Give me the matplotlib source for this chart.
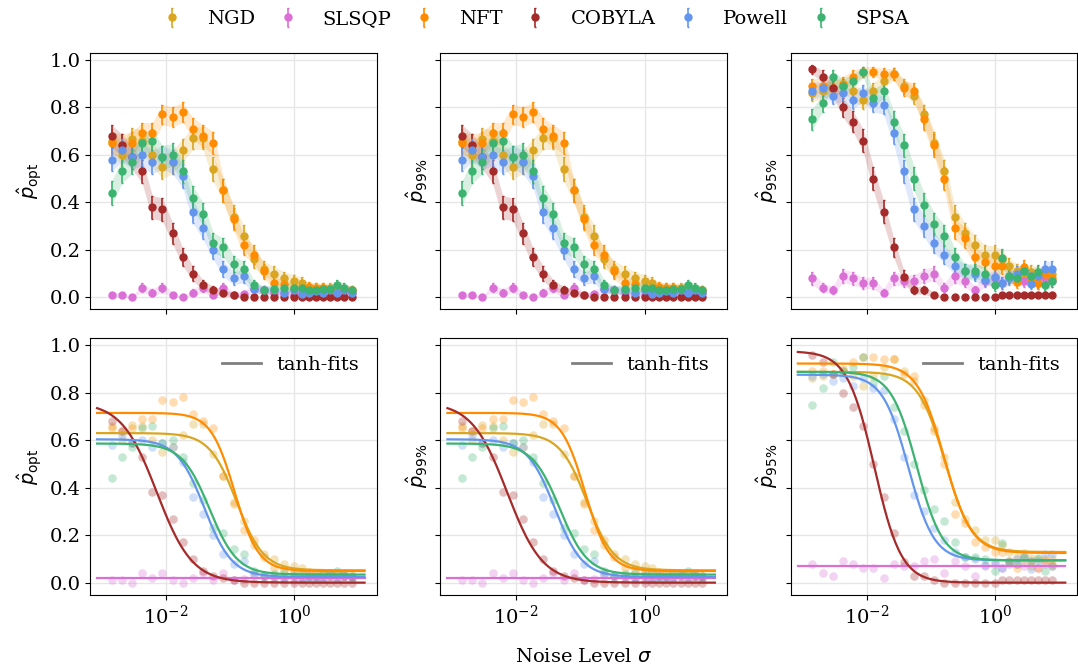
import numpy as np
import matplotlib.pyplot as plt
from matplotlib.lines import Line2D
from matplotlib.ticker import NullLocator

plt.rcParams['font.family'] = 'DejaVu Serif'
plt.rcParams['font.size'] = 14
plt.rcParams['mathtext.fontset'] = 'dejavusans'

# noise levels (x axis)
sigma = np.array([0.001438, 0.002069, 0.002976, 0.004281, 0.006158, 0.008859,
                  0.012743, 0.018330, 0.026367, 0.037927, 0.054556, 0.078476,
                  0.112884, 0.162378, 0.233572, 0.335982, 0.483293, 0.695193,
                  1.0, 1.2915, 1.6681, 2.1544, 2.7826, 3.5938, 4.6416, 5.9948,
                  7.7426])

methods = ["NGD", "SLSQP", "NFT", "COBYLA", "Powell", "SPSA"]
colors = ["goldenrod", "orchid", "darkorange", "brown", "cornflowerblue", "mediumseagreen"]
n_runs = 100

# success probabilities, p_opt (same as p_99%)
p_opt = {
    "NGD": [0.66, 0.60, 0.665, 0.66, 0.60, 0.55, 0.57, 0.62, 0.67, 0.67, 0.54, 0.45, 0.34,
            0.26, 0.16, 0.12, 0.10, 0.08, 0.07, 0.06, 0.04, 0.04, 0.04, 0.04, 0.04, 0.03, 0.03],
    "SLSQP": [0.01, 0.01, 0.0, 0.04, 0.02, 0.04, 0.01, 0.0, 0.02, 0.04, 0.01, 0.04, 0.01,
              0.015, 0.035, 0.03, 0.02, 0.02, 0.01, 0.02, 0.03, 0.02, 0.02, 0.03, 0.02, 0.03, 0.02],
    "NFT": [0.65, 0.64, 0.65, 0.69, 0.69, 0.77, 0.76, 0.78, 0.71, 0.68, 0.65, 0.45, 0.33,
            0.22, 0.18, 0.11, 0.06, 0.055, 0.04, 0.04, 0.045, 0.04, 0.04, 0.035, 0.04, 0.035, 0.03],
    "COBYLA": [0.68, 0.64, 0.59, 0.53, 0.38, 0.37, 0.27, 0.17, 0.10, 0.05, 0.03, 0.02, 0.01,
               0.0, 0.0, 0.0, 0.0, 0.0, 0.0, 0.0, 0.0, 0.0, 0.0, 0.0, 0.0, 0.0, 0.0],
    "Powell": [0.58, 0.62, 0.59, 0.60, 0.57, 0.59, 0.57, 0.51, 0.36, 0.29, 0.20, 0.12, 0.08,
               0.09, 0.035, 0.03, 0.03, 0.017, 0.03, 0.015, 0.02, 0.025, 0.02, 0.03, 0.02, 0.03, 0.02],
    "SPSA": [0.44, 0.53, 0.57, 0.65, 0.66, 0.59, 0.60, 0.53, 0.42, 0.35, 0.23, 0.21, 0.14,
             0.12, 0.05, 0.03, 0.035, 0.04, 0.04, 0.04, 0.03, 0.03, 0.035, 0.035, 0.05, 0.04, 0.03],
}
p_99 = p_opt

p_95 = {
    "NGD": [0.86, 0.87, 0.88, 0.89, 0.87, 0.83, 0.87, 0.91, 0.94, 0.89, 0.85, 0.77, 0.65,
            0.53, 0.34, 0.27, 0.22, 0.18, 0.18, 0.16, 0.13, 0.11, 0.095, 0.105, 0.10, 0.09, 0.10],
    "SLSQP": [0.08, 0.04, 0.03, 0.09, 0.08, 0.06, 0.06, 0.02, 0.08, 0.07, 0.07, 0.09, 0.10,
              0.04, 0.09, 0.07, 0.03, 0.07, 0.08, 0.06, 0.09, 0.08, 0.07, 0.09, 0.06, 0.08, 0.07],
    "NFT": [0.89, 0.89, 0.88, 0.90, 0.93, 0.95, 0.95, 0.94, 0.94, 0.88, 0.87, 0.75, 0.64,
            0.50, 0.29, 0.25, 0.17, 0.15, 0.13, 0.13, 0.087, 0.063, 0.126, 0.07, 0.06, 0.10, 0.08],
    "COBYLA": [0.96, 0.93, 0.88, 0.80, 0.74, 0.66, 0.50, 0.36, 0.21, 0.087, 0.03, 0.03, 0.01,
               0.0, 0.0, 0.0, 0.0, 0.0, 0.0, 0.01, 0.01, 0.01, 0.01, 0.01, 0.01, 0.01, 0.01],
    "Powell": [0.87, 0.88, 0.85, 0.86, 0.83, 0.86, 0.82, 0.81, 0.69, 0.53, 0.37, 0.30, 0.23,
               0.18, 0.13, 0.11, 0.10, 0.073, 0.087, 0.06, 0.08, 0.10, 0.11, 0.056, 0.09, 0.12, 0.12],
    "SPSA": [0.75, 0.82, 0.93, 0.89, 0.91, 0.95, 0.84, 0.87, 0.74, 0.64, 0.50, 0.39, 0.31,
             0.26, 0.17, 0.11, 0.11, 0.10, 0.05, 0.166, 0.09, 0.08, 0.11, 0.09, 0.105, 0.05, 0.07],
}

# tanh fit parameters: (high, low, centre log10(sigma), width in decades)
fit_opt = {
    "NGD": (0.63, 0.052, -0.90, 0.42),
    "SLSQP": (0.021, 0.021, 0.0, 1.0),
    "NFT": (0.715, 0.049, -0.93, 0.37),
    "COBYLA": (0.76, 0.0, -2.14, 0.55),
    "Powell": (0.604, 0.024, -1.40, 0.43),
    "SPSA": (0.586, 0.034, -1.32, 0.43),
}
fit_99 = fit_opt
fit_95 = {
    "NGD": (0.888, 0.129, -0.78, 0.42),
    "SLSQP": (0.069, 0.069, 0.0, 1.0),
    "NFT": (0.923, 0.125, -0.79, 0.42),
    "COBYLA": (0.975, 0.0, -1.88, 0.42),
    "Powell": (0.876, 0.094, -1.35, 0.40),
    "SPSA": (0.888, 0.094, -1.22, 0.40),
}

ylabels = [r'$\hat{p}_{\mathrm{opt}}$', r'$\hat{p}_{99\%}$', r'$\hat{p}_{95\%}$']
datasets = [p_opt, p_99, p_95]
fits = [fit_opt, fit_99, fit_95]


def tanh_fit(x, hi, lo, c, w):
    return lo + (hi - lo) * (1 - np.tanh((np.log10(x) - c) / w)) / 2


xfit = np.logspace(-3.07, 1.09, 300)

fig, axes = plt.subplots(2, 3, sharex=True, sharey=True, figsize=(10.78, 6.68), dpi=100)

for j in range(3):
    ax_top = axes[0, j]
    ax_bot = axes[1, j]
    for m, col in zip(methods, colors):
        p = np.array(datasets[j][m])
        err = np.sqrt(p * (1 - p) / n_runs)
        ax_top.fill_between(sigma, p - err, p + err, color=col, alpha=0.2, lw=0)
        ax_top.errorbar(sigma, p, yerr=err, fmt='o', color=col, ms=5,
                        elinewidth=1.2, capsize=1, label=m)
        ax_bot.scatter(sigma, p, color=col, alpha=0.3, s=38, lw=0)
        ax_bot.plot(xfit, tanh_fit(xfit, *fits[j][m]), color=col, lw=1.6)
    ax_top.set_ylabel(ylabels[j])
    ax_bot.set_ylabel(ylabels[j])
    ax_bot.legend([Line2D([], [], color='gray', lw=2)], ['tanh-fits'],
                  loc='upper right', frameon=False)

for ax in axes.flat:
    ax.grid(True, color='0.9', lw=1)
    ax.set_axisbelow(True)

ax = axes[0, 0]
ax.set_xscale('log')
ax.set_xlim(10 ** -3.18, 10 ** 1.28)
ax.set_ylim(-0.05, 1.03)
ax.set_xticks([1e-2, 1])
ax.xaxis.set_minor_locator(NullLocator())
ax.set_yticks([0.0, 0.2, 0.4, 0.6, 0.8, 1.0])

axes[1, 1].set_xlabel(r'Noise Level $\sigma$', labelpad=15)

handles, labels = axes[0, 0].get_legend_handles_labels()
fig.legend(handles, labels, loc='upper center', ncol=6, frameon=False,
           columnspacing=0.68, bbox_to_anchor=(0.4926, 1.011))

plt.subplots_adjust(left=0.0835, right=0.9995, top=0.921, bottom=0.110,
                    wspace=0.222, hspace=0.113)
plt.savefig('out.png', dpi=100)
